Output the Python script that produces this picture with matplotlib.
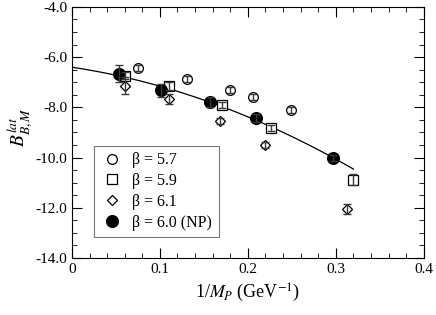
import matplotlib.pyplot as plt
from matplotlib.lines import Line2D
import numpy as np

plt.rcParams['font.family'] = ['Liberation Serif', 'DejaVu Serif']
plt.rcParams['mathtext.fontset'] = 'stix'

# beta = 5.7
x57 = [0.0754, 0.1307, 0.1795, 0.206, 0.2485]
y57 = [-6.44, -6.87, -7.31, -7.59, -8.09]
e57 = [0.12, 0.12, 0.12, 0.12, 0.12]
# beta = 5.9
x59 = [0.0606, 0.1106, 0.1708, 0.2265, 0.319]
y59 = [-6.74, -7.15, -7.92, -8.83, -10.89]
e59 = [0.14, 0.14, 0.12, 0.12, 0.22]
# beta = 6.1
x61 = [0.0598, 0.1106, 0.1686, 0.219, 0.3125]
y61 = [-7.13, -7.68, -8.54, -9.50, -12.06]
e61 = [0.35, 0.2, 0.12, 0.12, 0.2]
# beta = 6.0 (NP)
xnp = [0.0538, 0.101, 0.157, 0.2087, 0.2966]
ynp = [-6.67, -7.32, -7.77, -8.43, -10.03]
enp = [0.34, 0.27, 0.2, 0.15, 0.12]

labels = ['\u03b2 = 5.7', '\u03b2 = 5.9', '\u03b2 = 6.1', '\u03b2 = 6.0 (NP)']
styles = [dict(marker='o', ms=7, mfc='white'),
          dict(marker='s', ms=6.5, mfc='white'),
          dict(marker='D', ms=5.5, mfc='white'),
          dict(marker='o', ms=8.5, mfc='black')]

fig = plt.figure(figsize=(4.36, 3.15), dpi=100)
ax = fig.add_axes([0.165, 0.181, 0.807, 0.797])

handles = []
for xs, ys, es, st, lab in zip([x57, x59, x61, xnp], [y57, y59, y61, ynp],
                               [e57, e59, e61, enp], styles, labels):
    ax.plot(xs, ys, linestyle='none', mec='black', mew=0.9, zorder=2, **st)
    ax.errorbar(xs, ys, yerr=es, fmt='none', ecolor='#3a3a3a', elinewidth=1.0,
                capsize=3, capthick=1.0, zorder=3)
    handles.append(Line2D([], [], linestyle='none', mec='black', mew=0.9, **st))

# quadratic fit through the NP points
c = np.polyfit(xnp, ynp, 2)
xf = np.linspace(0, 0.32, 100)
ax.plot(xf, np.polyval(c, xf), color='black', lw=0.9, zorder=1)

ax.set_xlim(0, 0.4)
ax.set_ylim(-14, -4)
ax.set_xticks([0, 0.1, 0.2, 0.3, 0.4])
ax.set_xticklabels(['0', '0.1', '0.2', '0.3', '0.4'])
ax.set_xticks(np.arange(0, 0.401, 0.02), minor=True)
ax.set_yticks(np.arange(-14, -3.9, 2))
ax.set_yticklabels(['%.1f' % v for v in np.arange(-14, -3.9, 2)])
ax.set_yticks(np.arange(-14, -3.9, 0.5), minor=True)
ax.tick_params(which='both', direction='in', top=True, right=True, labelsize=11)
ax.tick_params(which='major', length=7)
ax.tick_params(which='minor', length=3.5)

ax.set_xlabel(r'1/$M_P$ (GeV$^{-1}$)', fontsize=13)
ax.set_ylabel(r'$B_{B,M}^{lat}$', fontsize=14)
ax.yaxis.set_label_coords(-0.105, 0.52)

leg = ax.legend(handles, labels, loc='lower left', bbox_to_anchor=(0.0625, 0.084),
                fontsize=11.5, frameon=True, fancybox=False, edgecolor='#555555',
                handletextpad=0.5, handlelength=1.5, borderpad=0.4,
                labelspacing=0.3, numpoints=1, borderaxespad=0)
leg.get_frame().set_linewidth(0.8)

fig.savefig('out.png', dpi=100)
